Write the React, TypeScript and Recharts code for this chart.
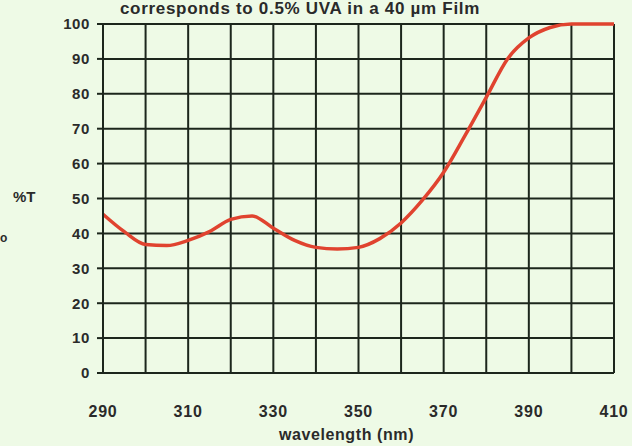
import { LineChart, Line, XAxis, YAxis, CartesianGrid } from "recharts";

// wavelength (nm) sampled every 5 nm
const wavelengths = [290, 295, 300, 305, 310, 315, 320, 325, 330, 335, 340, 345, 350, 355, 360, 365, 370, 375, 380, 385, 390, 395, 400, 405, 410];
// % transmission
const transmission = [45.5, 40.5, 36.8, 36.5, 38, 40.5, 44, 45, 41.5, 38, 36, 35.5, 36, 38.5, 43, 49.5, 57.5, 68, 79, 90, 96, 99, 100, 100, 100];

const xTicks = [290, 300, 310, 320, 330, 340, 350, 360, 370, 380, 390, 400, 410];
const xLabels = [290, 310, 330, 350, 370, 390, 410];
const yTicks = [0, 10, 20, 30, 40, 50, 60, 70, 80, 90, 100];

const title = "corresponds to 0.5% UVA in a 40 µm Film";

const data = wavelengths.map((wl, i) => ({ wl, t: transmission[i] }));

const font = '"Liberation Sans", Arial, sans-serif';
const textColor = "#2a2a2a";

export default function App() {
  return (
    <div style={{
      position: "absolute",
      left: 0,
      top: 0,
      width: 632,
      height: 446,
      overflow: "hidden",
      background: "#eefae6",
      fontFamily: font
    }}>
      {/* titulo arriba */}
      <div style={{
        position: "absolute",
        top: 0,
        left: 0,
        width: 600,
        textAlign: "center",
        fontSize: 17,
        lineHeight: "17px",
        letterSpacing: 0.7,
        fontWeight: "bold",
        color: textColor,
        whiteSpace: "nowrap"
      }}>{title}</div>
      <div style={{ position: "absolute", left: 13, top: 188, fontSize: 15, fontWeight: "bold", color: textColor }}>%T</div>
      <div style={{ position: "absolute", left: 0, top: 231, fontSize: 12, fontWeight: "bold", color: textColor }}>o</div>

      <LineChart width={632} height={446} data={data} margin={{ top: 24, right: 18, left: 57, bottom: 40 }}>
        <CartesianGrid stroke="#1c261c" strokeWidth={2} horizontalValues={yTicks} verticalValues={xTicks} />
        <XAxis
          dataKey="wl"
          type="number"
          domain={[290, 410]}
          ticks={xTicks}
          interval={0}
          tickLine={false}
          axisLine={{ stroke: "#1c261c", strokeWidth: 2 }}
          tickMargin={27}
          height={33}
          tickFormatter={(v: number) => (xLabels.includes(v) ? String(v) : "")}
          tick={{ fill: textColor, fontSize: 16, fontWeight: "bold", fontFamily: font, letterSpacing: 0.8 }}
          label={{ value: "wavelength (nm)", position: "insideBottom", offset: -34, fill: textColor, fontSize: 16, fontWeight: "bold", fontFamily: font, letterSpacing: 0.6, dx: -12 }}
        />
        <YAxis
          type="number"
          domain={[0, 100]}
          ticks={yTicks}
          interval={0}
          width={46}
          tickSize={6}
          tickMargin={7}
          axisLine={{ stroke: "#1c261c", strokeWidth: 2 }}
          tickLine={{ stroke: "#1c261c", strokeWidth: 2 }}
          tick={{ fill: textColor, fontSize: 15, fontWeight: "bold", fontFamily: font, letterSpacing: 0.6 }}
        />
        <Line
          type="monotone"
          dataKey="t"
          stroke="#e0432f"
          strokeWidth={3.5}
          dot={false}
          isAnimationActive={false}
        />
      </LineChart>
    </div>
  );
}
